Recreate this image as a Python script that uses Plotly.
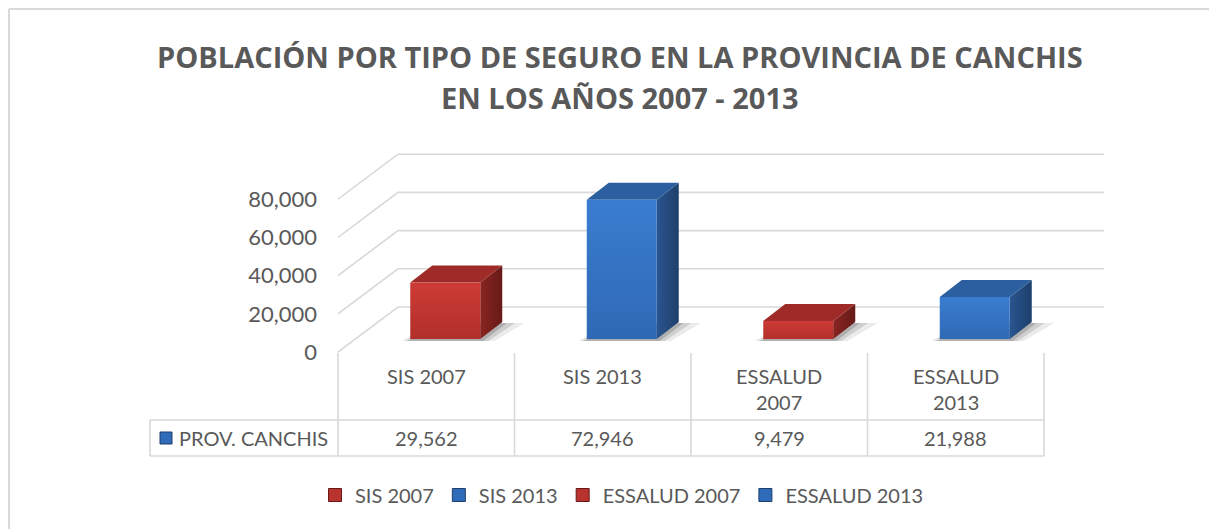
import plotly.graph_objects as go

# ---------------- data ----------------
categories = ["SIS 2007", "SIS 2013", "ESSALUD 2007", "ESSALUD 2013"]
cat_labels = ["SIS 2007", "SIS 2013", "ESSALUD<br>2007", "ESSALUD<br>2013"]
values = [29562, 72946, 9479, 21988]
value_text = ["29,562", "72,946", "9,479", "21,988"]
series_name = "PROV. CANCHIS"
y_ticks = [0, 20000, 40000, 60000, 80000]
y_ticktext = ["0", "20,000", "40,000", "60,000", "80,000"]
title_lines = ["POBLACIÓN POR TIPO DE SEGURO EN LA PROVINCIA DE CANCHIS",
               "EN LOS AÑOS 2007 - 2013"]

# colour sets (front light, front dark, top, side light, side dark)
RED = dict(fl="#CD3B35", fd="#B22F2B", top="#9E2B27", sl="#8A2522", sd="#661A18", leg="#B8322E")
BLUE = dict(fl="#3A7DD0", fd="#2F69B5", top="#2C5F9F", sl="#2A558F", sd="#1E3F6C", leg="#2F6BB8")
colors = [RED, BLUE, RED, BLUE]

TXT = "#595959"
GRID = "#D9D9D9"
FONT = "Lato"
TITLE_FONT = "Open Sans"

# ---------------- geometry (pixels in the 1217x529 window) ----------------
W, H = 1217, 529
OFF = 8                  # page body margin of the browser
PX_L, PX_R, PY_T, PY_B = 338, 1105, 140, 460
CAT_W = 176.5            # px per category
Y0_PY = 352              # front-plane zero
PX_PER_20K = 38.2
UPP = 20000 / PX_PER_20K  # value units per pixel


def dx(px):
    return px / CAT_W


def dy(px):
    return px * UPP


x_range = [-0.5, -0.5 + dx(PX_R - PX_L)]
y_range = [(Y0_PY - PY_B) * UPP, (Y0_PY - PY_T) * UPP]


def xp(px):  # pixel -> paper x
    return (px - PX_L) / (PX_R - PX_L)


def yp(py):  # pixel -> paper y
    return (PY_B - py) / (PY_B - PY_T)


def xdata_to_px(x):
    return PX_L + (x - x_range[0]) * CAT_W


fig = go.Figure()

# ---------------- back wall gridlines ----------------
BACK_DX, BACK_DY = 60, 45
x_back_right = -0.5 + dx(1104 - PX_L)
for v in y_ticks:
    fig.add_trace(go.Scatter(
        x=[-0.5, -0.5 + dx(BACK_DX), x_back_right],
        y=[v, v + dy(BACK_DY), v + dy(BACK_DY)],
        mode="lines", line=dict(color=GRID, width=1.6),
        hoverinfo="skip", showlegend=False))

# ---------------- 3D bars ----------------
FRONT_DX, FRONT_DY = 19, 13
BAR_W = 70
DEPTH_DX, DEPTH_DY = 22, 17

for i, (v, c) in enumerate(zip(values, colors)):
    xc = i + dx(FRONT_DX)
    x0, x1 = xc - dx(BAR_W / 2), xc + dx(BAR_W / 2)
    y0, y1 = dy(FRONT_DY), dy(FRONT_DY) + v
    ddx, ddy = dx(DEPTH_DX), dy(DEPTH_DY)
    # soft shadow on the floor
    for grow, alpha in [(14, 0.10), (8, 0.16), (3, 0.22)]:
        fig.add_trace(go.Scatter(
            x=[x0 - dx(grow * 0.6), x1 + dx(grow), x1 + ddx + dx(grow * 1.6), x0 + ddx, x0 - dx(grow * 0.6)],
            y=[y0 - dy(2), y0 - dy(2), y0 + ddy - dy(1), y0 + ddy - dy(1), y0 - dy(2)],
            mode="lines", line=dict(width=0), fill="toself",
            fillcolor=f"rgba(60,60,60,{alpha})", hoverinfo="skip", showlegend=False))
    # side face
    fig.add_trace(go.Scatter(
        x=[x1, x1 + ddx, x1 + ddx, x1, x1],
        y=[y0, y0 + ddy, y1 + ddy, y1, y0],
        mode="lines", line=dict(width=0), fill="toself",
        fillgradient=dict(type="horizontal", colorscale=[[0, c["sl"]], [1, c["sd"]]]),
        hoverinfo="skip", showlegend=False))
    # top face
    fig.add_trace(go.Scatter(
        x=[x0, x1, x1 + ddx, x0 + ddx, x0],
        y=[y1, y1, y1 + ddy, y1 + ddy, y1],
        mode="lines", line=dict(width=0), fill="toself", fillcolor=c["top"],
        hoverinfo="skip", showlegend=False))
    # front face
    fig.add_trace(go.Scatter(
        x=[x0, x1, x1, x0, x0],
        y=[y0, y0, y1, y1, y0],
        mode="lines", line=dict(width=0), fill="toself",
        fillgradient=dict(type="vertical", colorscale=[[0, c["fd"]], [1, c["fl"]]]),
        name=categories[i], hovertemplate=f"{categories[i]}: {value_text[i]}<extra></extra>",
        showlegend=False))

# legend entries
for i, c in enumerate(colors):
    fig.add_trace(go.Scatter(
        x=[None], y=[None], mode="markers", name=categories[i],
        marker=dict(symbol="square", size=13, color=c["leg"],
                    line=dict(color=c["sd"], width=1))))

# ---------------- data table ----------------
shapes = []
T_TOP, T_MID, T_BOT, T_LEFT = 353, 420, 456, 150
bounds = [-0.5 + k for k in range(len(categories) + 1)]
for b in bounds:
    bx = xp(xdata_to_px(b))
    shapes.append(dict(type="line", xref="paper", yref="paper",
                       x0=bx, x1=bx, y0=yp(T_TOP), y1=yp(T_BOT),
                       line=dict(color=GRID, width=1.6)))
right_px = xdata_to_px(bounds[-1])
for ty in [T_MID, T_BOT]:
    shapes.append(dict(type="line", xref="paper", yref="paper",
                       x0=xp(T_LEFT), x1=xp(right_px), y0=yp(ty), y1=yp(ty),
                       line=dict(color=GRID, width=1.6)))
shapes.append(dict(type="line", xref="paper", yref="paper",
                   x0=xp(T_LEFT), x1=xp(T_LEFT), y0=yp(T_MID), y1=yp(T_BOT),
                   line=dict(color=GRID, width=1.6)))
# series key in table
shapes.append(dict(type="rect", xref="paper", yref="paper",
                   x0=xp(160), x1=xp(172), y0=yp(444), y1=yp(432),
                   fillcolor=BLUE["leg"], line=dict(color=BLUE["sd"], width=1)))
# outer chart border (top and left visible)
shapes.append(dict(type="line", xref="paper", yref="paper",
                   x0=xp(9), x1=xp(W + 20), y0=yp(9), y1=yp(9),
                   line=dict(color=GRID, width=2)))
shapes.append(dict(type="line", xref="paper", yref="paper",
                   x0=xp(9), x1=xp(9), y0=yp(9), y1=yp(H + 20),
                   line=dict(color=GRID, width=2)))

annotations = []
for i, lab in enumerate(cat_labels):
    annotations.append(dict(x=i, xref="x", y=yp(362), yref="paper",
                            text=lab, showarrow=False, xanchor="center", yanchor="top",
                            font=dict(family=FONT, size=20, color=TXT)))
    annotations.append(dict(x=i, xref="x", y=yp(438), yref="paper",
                            text=value_text[i], showarrow=False, xanchor="center", yanchor="middle",
                            font=dict(family=FONT, size=20, color=TXT)))
annotations.append(dict(x=xp(177), xref="paper", y=yp(438), yref="paper",
                        text=series_name, showarrow=False, xanchor="left", yanchor="middle",
                        font=dict(family=FONT, size=20, color=TXT)))
for k, (line, py) in enumerate(zip(title_lines, [56, 97])):
    annotations.append(dict(x=xp(620), xref="paper", y=yp(py), yref="paper",
                            text=f"<b>{line}</b>", showarrow=False, xanchor="center", yanchor="middle",
                            font=dict(family=TITLE_FONT, size=29, color=TXT)))

fig.update_layout(
    width=W - OFF, height=H - OFF,
    margin=dict(l=PX_L - OFF, r=W - PX_R, t=PY_T - OFF, b=H - PY_B, pad=0),
    paper_bgcolor="white", plot_bgcolor="white",
    xaxis=dict(range=x_range, visible=False, fixedrange=True),
    yaxis=dict(range=y_range, tickvals=y_ticks, ticktext=y_ticktext,
               showgrid=False, zeroline=False, showline=False, ticks="",
               ticklabelstandoff=20, fixedrange=True,
               tickfont=dict(family=FONT, size=22, color=TXT)),
    showlegend=True,
    legend=dict(orientation="h", x=xp(622), xanchor="center", y=yp(495), yanchor="middle",
                font=dict(family=FONT, size=20, color=TXT), bgcolor="rgba(0,0,0,0)",
                itemclick=False, itemdoubleclick=False),
    shapes=shapes, annotations=annotations,
)

fig.write_html("out.html")
